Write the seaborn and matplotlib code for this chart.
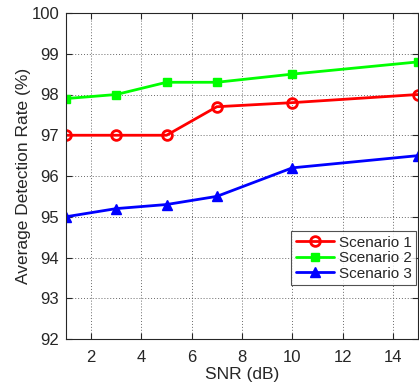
import matplotlib
matplotlib.use("Agg")
import matplotlib.pyplot as plt
import seaborn as sns
import pandas as pd

snr = [1, 3, 5, 7, 10, 15]
scenario1 = [97.0, 97.0, 97.0, 97.7, 97.8, 98.0]
scenario2 = [97.9, 98.0, 98.3, 98.3, 98.5, 98.8]
scenario3 = [95.0, 95.2, 95.3, 95.5, 96.2, 96.5]
names = ["Scenario 1", "Scenario 2", "Scenario 3"]
colors = ["#ff0000", "#00ff00", "#0000ff"]
markers = ["o", "s", "^"]
xticks = [2, 4, 6, 8, 10, 12, 14]
yticks = [92, 93, 94, 95, 96, 97, 98, 99, 100]

sns.set_theme(style="white")
plt.rcParams["font.family"] = ["Liberation Sans", "DejaVu Sans"]

rows = []
for name, vals in zip(names, [scenario1, scenario2, scenario3]):
    for x, v in zip(snr, vals):
        rows.append({"SNR": x, "rate": v, "Scenario": name})
df = pd.DataFrame(rows)

fig = plt.figure(figsize=(4.19, 3.85), dpi=100)
ax = fig.add_axes([66/419, 1-339/385, 352/419, (339-13)/385])

mfc = {"Scenario 1": "none", "Scenario 2": "#00ff00", "Scenario 3": "#0000ff"}
for name, col, mk in zip(names, colors, markers):
    sub = df[df["Scenario"] == name]
    sns.lineplot(data=sub, x="SNR", y="rate", ax=ax, color=col, marker=mk,
                 markersize=7 if mk != "s" else 6, linewidth=2,
                 markerfacecolor=mfc[name], markeredgecolor=col,
                 markeredgewidth=2 if mk == "o" else 1, label=name)

ax.set_xlim(1, 15)
ax.set_ylim(92, 100)
ax.set_xticks(xticks)
ax.set_yticks(yticks)
ax.grid(True, linestyle=(0, (1, 2)), color="#444444", linewidth=0.7, alpha=0.8)
ax.tick_params(direction="in", length=4, width=0.8, colors="#262626",
               labelsize=12, top=True, right=True, bottom=True, left=True)
ax.tick_params(axis="x", pad=8)
ax.tick_params(axis="y", pad=5)
for s in ax.spines.values():
    s.set_color("#262626")
    s.set_linewidth(0.8)
ax.set_xlabel("SNR (dB)", fontsize=12.5, color="#262626", labelpad=1)
ax.set_ylabel("Average Detection Rate (%)", fontsize=12.5, color="#262626", labelpad=0)

leg = ax.legend(loc="lower left", bbox_to_anchor=(0.64, 0.165), fontsize=11,
                frameon=True, fancybox=False, edgecolor="#262626",
                borderpad=0.3, labelspacing=0.1, handlelength=2.5,
                handletextpad=0.3, borderaxespad=0)
leg.get_frame().set_linewidth(0.8)

fig.savefig("out.png", dpi=100)
